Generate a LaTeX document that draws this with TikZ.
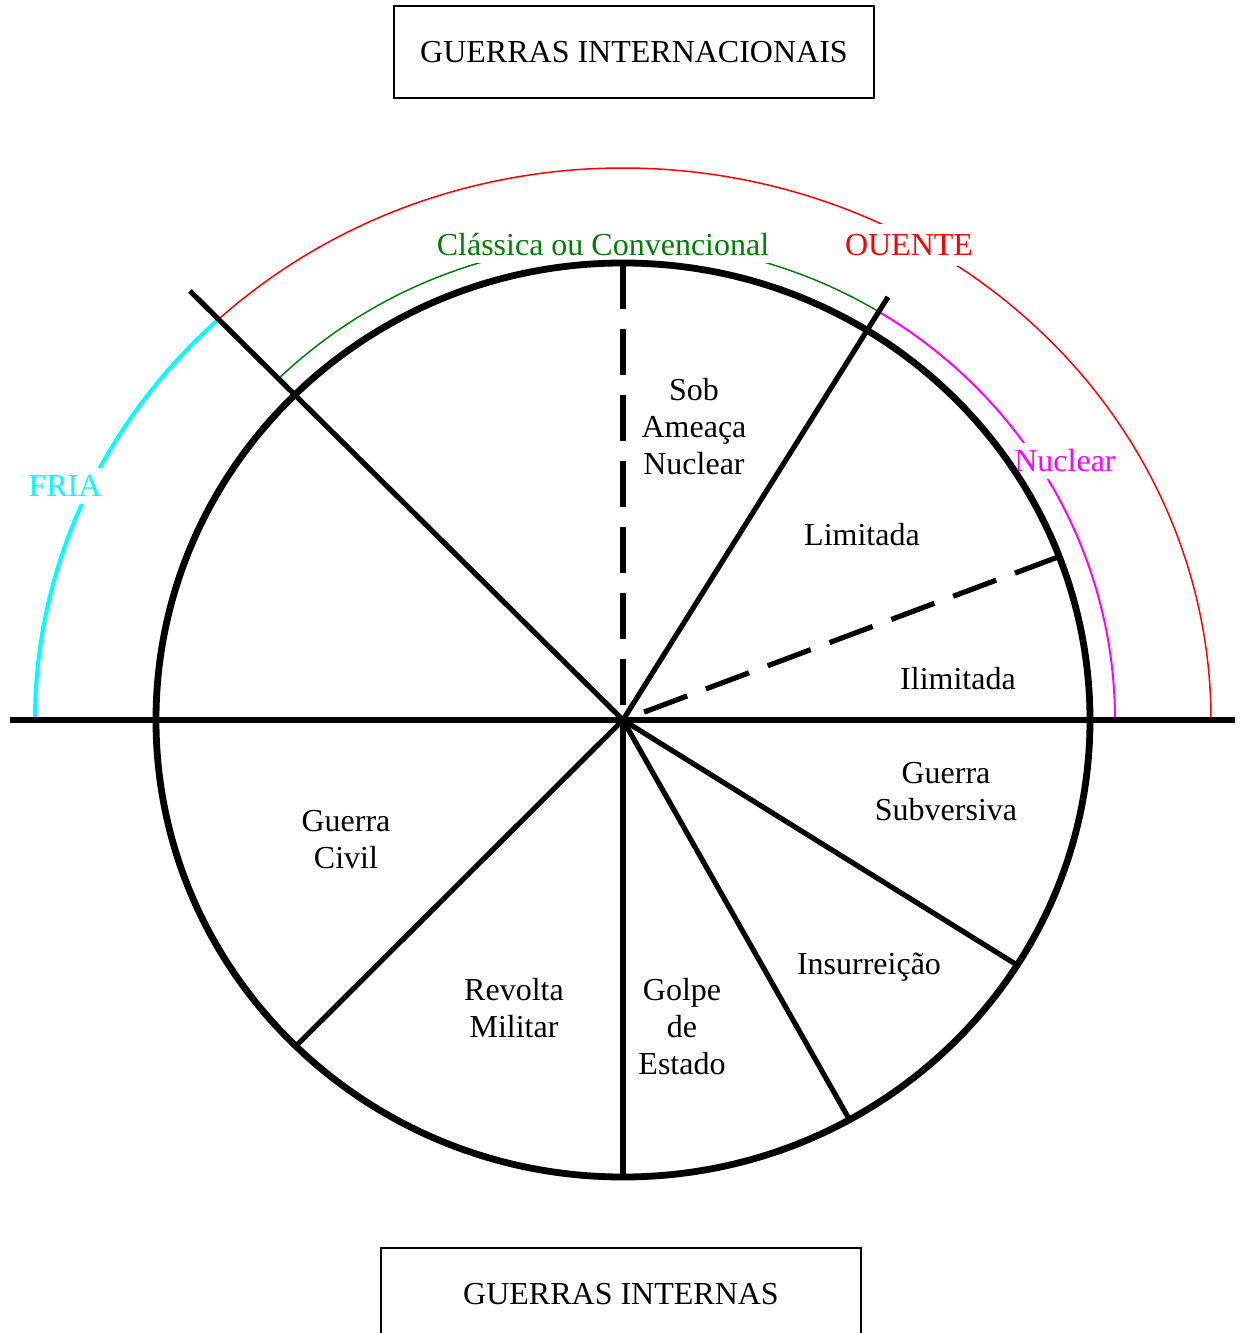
\documentclass[tikz,border=0pt]{standalone}
\usepackage{fontspec}
\setmainfont{Liberation Serif}
\usetikzlibrary{positioning}
\definecolor{friacyan}{RGB}{0, 255, 255}
\definecolor{classgreen}{RGB}{0, 128, 0}
\definecolor{nuclearmagenta}{RGB}{255, 0, 255}

\begin{document}
\begin{tikzpicture}[x=0.5pt, y=0.5pt,
    labelnode/.style={align=center, font=\fontsize{16}{18.5}\selectfont},
    titlebox/.style={rectangle, draw, line width=0.75pt, minimum width=240pt, minimum height=46pt, font=\fontsize{16}{18.5}\selectfont},
    arclabel/.style={fill=white, inner sep=3.5pt, font=\fontsize{16}{18.5}\selectfont},
    spoke/.style={line width=2.6pt},
    dashspoke/.style={line width=2.6pt, dash pattern=on 23pt off 10pt}]

    \useasboundingbox (-623,-613) rectangle (619,720);

    % Outer arcs
    \draw[friacyan, line width=2pt] (180:588 and 552) arc[start angle=180, end angle=133.3, x radius=588, y radius=552];
    \draw[red, line width=0.75pt] (133.3:588 and 552) arc[start angle=133.3, end angle=0, x radius=588, y radius=552];
    \draw[classgreen, line width=0.75pt] (134.2:492 and 478) arc[start angle=134.2, end angle=58.5, x radius=492, y radius=478];
    \draw[nuclearmagenta, line width=1pt] (58.5:492 and 478) arc[start angle=58.5, end angle=0, x radius=492, y radius=478];

    % Arc labels
    \node[arclabel, text=friacyan] (l_fria) at (-558,234) {FRIA};
    \node[arclabel, text=red, inner sep=5pt] (l_quente) at (286,475) {OUENTE};
    \node[arclabel, text=classgreen] (l_classica) at (-20,475) {Clássica ou Convencional};
    \node[arclabel, text=nuclearmagenta] (l_nuclear) at (442,259) {Nuclear};

    % Spoke ends
    \coordinate (c) at (0,0);
    \coordinate (e_left) at (-613,0);
    \coordinate (e_right) at (612,0);
    \coordinate (e_top) at (0,457);
    \coordinate (e_ul) at (-433,429);
    \coordinate (e_ur) at (265,423);
    \coordinate (e_dash) at (435,163);
    \coordinate (e_r1) at (394,-245);
    \coordinate (e_r2) at (225,-397);
    \coordinate (e_bottom) at (0,-457);
    \coordinate (e_l1) at (-326,-325);

    % Circle
    \draw[line width=3.4pt] (c) ellipse [x radius=467, y radius=457];

    % Spokes
    \draw[spoke] (e_left) -- (e_right);
    \draw[dashspoke] (e_top) -- (c);
    \draw[spoke] (e_ul) -- (c);
    \draw[spoke] (c) -- (e_ur);
    \draw[dashspoke] (e_dash) -- (c);
    \draw[spoke] (c) -- (e_r1);
    \draw[spoke] (c) -- (e_r2);
    \draw[spoke] (c) -- (e_bottom);
    \draw[spoke] (c) -- (e_l1);

    % Sector labels
    \node[labelnode] (n_sob) at (71,293) {Sob\\Ameaça\\Nuclear};
    \node[labelnode] (n_limitada) at (239,185) {Limitada};
    \node[labelnode] (n_ilimitada) at (335,41) {Ilimitada};
    \node[labelnode] (n_subversiva) at (323,-72) {Guerra\\Subversiva};
    \node[labelnode] (n_insurreicao) at (246,-247) {Insurreição};
    \node[labelnode] (n_golpe) at (59,-307) {Golpe\\de\\Estado};
    \node[labelnode] (n_revolta) at (-109,-288) {Revolta\\Militar};
    \node[labelnode] (n_civil) at (-277,-120) {Guerra\\Civil};

    % Titles
    \node[titlebox] (t_internacionais) at (11,668) {GUERRAS INTERNACIONAIS};
    \node[titlebox] (t_internas) at (-2,-574) {GUERRAS INTERNAS};
\end{tikzpicture}
\end{document}
